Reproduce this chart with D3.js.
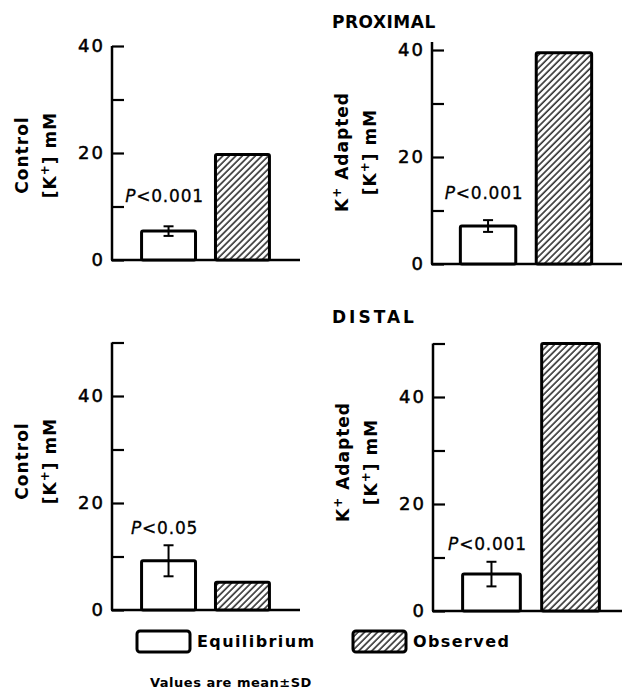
<!DOCTYPE html>
<html>
<head>
<meta charset="utf-8">
<script src="https://cdn.jsdelivr.net/npm/d3@7"></script>
<style>
  body { margin: 0; background: #fff; }
  svg { display: block; }
  text { font-family: "DejaVu Sans", sans-serif; fill: #000; }
</style>
</head>
<body>
<div id="chart"></div>
<script>
;(function () {

    // Data (mM)
    var segments      = ['PROXIMAL', 'DISTAL'];
    var groups        = ['Control', 'Adapted'];
    var series        = ['Equilibrium', 'Observed'];
    var equilibrium   = [5.4, 7.1, 9.2, 6.9];
    var equilibriumSD = [0.9, 1.1, 2.9, 2.3];
    var observed      = [19.7, 39.5, 5.2, 50.0];
    var pLabels       = ['<0.001', '<0.001', '<0.05', '<0.001'];
    var yMax          = [40, 40, 50, 50];
    var tickValues    = [0, 10, 20, 30, 40, 50];
    var tickLabels    = [0, 20, 40];
    var note          = 'Values are mean\u00b1SD';

    // Panel placement: panel i -> segment floor(i / 2), group i % 2
    var layout = [
        { x: 112, y0: 260, over: 0, end: 300, band: [112, 299], labelY: 155, pDy: 24 },
        { x: 432, y0: 264, over: 8, end: 622, band: [430, 622], labelY: 152, pDy: 21 },
        { x: 112, y0: 610, over: 0, end: 300, band: [112, 299], labelY: 461, pDy: 11 },
        { x: 433, y0: 611, over: 0, end: 622, band: [431, 631], labelY: 462, pDy: 12 }
    ];
    var pxPerUnit = 5.35;

    var svg = d3.select('#chart').append('svg')
        .attr('width', 627)
        .attr('height', 690);

    svg.append('rect')
        .attr('width', 627)
        .attr('height', 690)
        .attr('fill', '#fff');

    // diagonal hatching for the observed bars
    var pattern = svg.append('defs').append('pattern')
        .attr('id', 'hatch')
        .attr('patternUnits', 'userSpaceOnUse')
        .attr('width', 4.6)
        .attr('height', 10)
        .attr('patternTransform', 'rotate(45)');
    pattern.append('rect').attr('width', 4.6).attr('height', 10).attr('fill', '#fff');
    pattern.append('line')
        .attr('x1', 1).attr('y1', 0).attr('x2', 1).attr('y2', 10)
        .attr('stroke', '#000').attr('stroke-width', 1.3);

    // Row titles
    var titleY = [28, 323];
    segments.forEach(function (s, i) {
        svg.append('text')
            .attr('x', 332)
            .attr('y', titleY[i])
            .attr('font-size', 17)
            .attr('font-weight', 'bold')
            .attr('letter-spacing', i === 1 ? 3 : 0.5)
            .text(s);
    });

    function yLabel(g, L, group) {
        var first = g.append('text')
            .attr('transform', 'translate(' + (L.x - 84) + ',' + L.labelY + ') rotate(-90)')
            .attr('text-anchor', 'middle')
            .attr('font-size', 17)
            .attr('font-weight', 'bold')
            .attr('letter-spacing', 1);
        if (group === 'Adapted') {
            first.append('tspan').text('K');
            first.append('tspan').attr('font-size', 12).attr('dy', -7).text('+');
            first.append('tspan').attr('dy', 7).text(' Adapted');
        } else {
            first.text(group);
        }
        var second = g.append('text')
            .attr('transform', 'translate(' + (L.x - 56) + ',' + L.labelY + ') rotate(-90)')
            .attr('text-anchor', 'middle')
            .attr('font-size', 17)
            .attr('font-weight', 'bold')
            .attr('letter-spacing', 1);
        second.append('tspan').text('[K');
        second.append('tspan').attr('font-size', 12).attr('dy', -7).text('+');
        second.append('tspan').attr('dy', 7).text('] mM');
    }

    function panel(i) {
        var L = layout[i];
        var g = svg.append('g');

        var y = d3.scaleLinear()
            .domain([0, yMax[i]])
            .range([L.y0, L.y0 - yMax[i] * pxPerUnit]);
        var x = d3.scaleBand()
            .domain(series)
            .range(L.band)
            .paddingInner(0.27)
            .paddingOuter(0.4);

        // axis, ticks to the right, labels on the left
        var axis = d3.axisLeft(y)
            .tickValues(tickValues.filter(function (t) { return t <= yMax[i]; }))
            .tickSizeInner(-12)
            .tickSizeOuter(0)
            .tickPadding(7)
            .tickFormat(function (t) { return tickLabels.indexOf(t) >= 0 ? t : ''; });

        var ax = g.append('g')
            .attr('transform', 'translate(' + L.x + ',0)')
            .call(axis);
        ax.select('.domain').remove();
        ax.selectAll('line').attr('stroke', '#000').attr('stroke-width', 2.2);
        ax.selectAll('text')
            .attr('font-family', '"DejaVu Sans", sans-serif')
            .attr('font-size', 18)
            .attr('letter-spacing', 2)
            .attr('fill', '#000')
            .attr('stroke', '#000')
            .attr('stroke-width', 0.5);

        g.append('line')
            .attr('x1', L.x).attr('x2', L.x)
            .attr('y1', L.y0).attr('y2', y(yMax[i]) - L.over)
            .attr('stroke', '#000').attr('stroke-width', 2.5);
        g.append('line')
            .attr('x1', L.x - 1).attr('x2', L.end)
            .attr('y1', L.y0).attr('y2', L.y0)
            .attr('stroke', '#000').attr('stroke-width', 2.5);

        var vals = [equilibrium[i], observed[i]];
        g.selectAll('rect.bar')
            .data(series)
            .enter()
            .append('rect')
            .attr('class', 'bar')
            .attr('x', function (d) { return x(d); })
            .attr('width', x.bandwidth())
            .attr('y', function (d, k) { return y(vals[k]); })
            .attr('height', function (d, k) { return L.y0 - y(vals[k]); })
            .attr('rx', 1.5)
            .attr('fill', function (d) { return d === 'Observed' ? 'url(#hatch)' : '#fff'; })
            .attr('stroke', '#000')
            .attr('stroke-width', 3);

        // error bar (mean +- SD) on the equilibrium bar
        var cx = x('Equilibrium') + x.bandwidth() / 2;
        var hi = y(equilibrium[i] + equilibriumSD[i]);
        var lo = y(equilibrium[i] - equilibriumSD[i]);
        g.append('line')
            .attr('x1', cx).attr('x2', cx).attr('y1', hi).attr('y2', lo)
            .attr('stroke', '#000').attr('stroke-width', 2);
        [hi, lo].forEach(function (v) {
            g.append('line')
                .attr('x1', cx - 5).attr('x2', cx + 5).attr('y1', v).attr('y2', v)
                .attr('stroke', '#000').attr('stroke-width', 2);
        });

        var p = g.append('text')
            .attr('x', cx - 4)
            .attr('y', hi - L.pDy)
            .attr('text-anchor', 'middle')
            .attr('font-size', 17)
            .attr('letter-spacing', 0.8)
            .attr('stroke', '#000')
            .attr('stroke-width', 0.3);
        p.append('tspan').attr('font-style', 'italic').text('P');
        p.append('tspan').text(pLabels[i]);

        yLabel(g, L, groups[i % 2]);
    }

    d3.range(4).forEach(panel);

    // legend
    var legendX = [137, 353];
    series.forEach(function (s, k) {
        svg.append('rect')
            .attr('x', legendX[k])
            .attr('y', 631)
            .attr('width', 53)
            .attr('height', 21)
            .attr('rx', 3)
            .attr('fill', s === 'Observed' ? 'url(#hatch)' : '#fff')
            .attr('stroke', '#000')
            .attr('stroke-width', 3);
        svg.append('text')
            .attr('x', legendX[k] + 60)
            .attr('y', 647)
            .attr('font-size', 16)
            .attr('font-weight', 'bold')
            .attr('letter-spacing', 1.4)
            .text(s);
    });

    svg.append('text')
        .attr('x', 150)
        .attr('y', 687)
        .attr('font-size', 13)
        .attr('font-weight', 'bold')
        .attr('letter-spacing', 0.5)
        .text(note);

})();
</script>
</body>
</html>
